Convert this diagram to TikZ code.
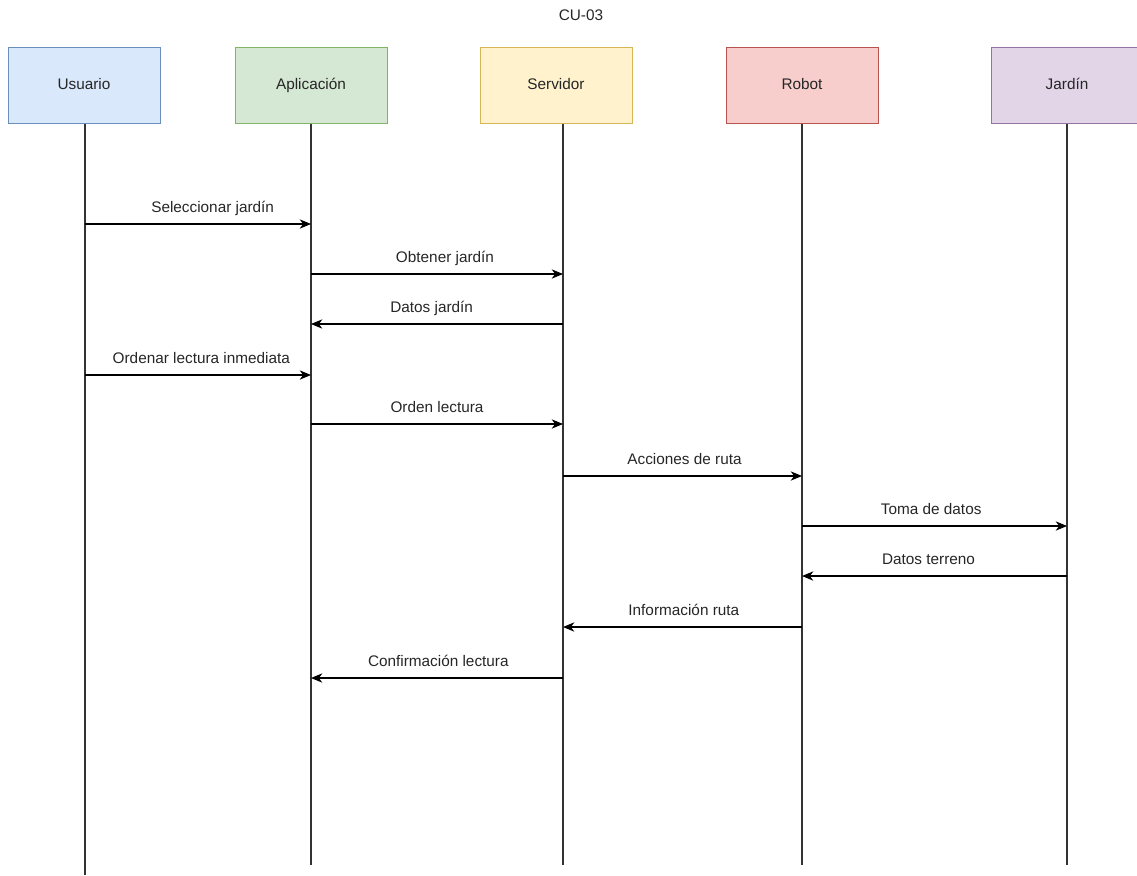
\documentclass[tikz,border=0pt]{standalone}
\usepackage{fontspec}
\setmainfont{Liberation Sans}
\usetikzlibrary{arrows.meta}

\begin{document}
\begin{tikzpicture}
		[x=0.75pt,y=-0.75pt,line cap=butt,
		%Styles
		actor/.style={line width=0.75pt,minimum width=114pt,minimum height=57pt,inner sep=0pt,text height=8.3pt,text depth=2.2pt,font=\fontsize{11.5}{13}\selectfont,text=black!85},
		lifeline/.style={draw=black!80,line width=0.9pt},
		msg/.style={draw=black,line width=0.8pt,-{Stealth[length=8.5pt,width=7pt,inset=2.6pt]}},
		msg label/.style={anchor=base,yshift=9pt,inner sep=0pt,font=\fontsize{11.5}{13}\selectfont,text=black!85}
		]
		
		%Colors
		\definecolor{userfill}{HTML}{DAE8FC}	\definecolor{userline}{HTML}{6C8EBF}
		\definecolor{appfill}{HTML}{D5E8D4}		\definecolor{appline}{HTML}{82B366}
		\definecolor{serverfill}{HTML}{FFF2CC}	\definecolor{serverline}{HTML}{D6B656}
		\definecolor{robotfill}{HTML}{F8CECC}	\definecolor{robotline}{HTML}{B85450}
		\definecolor{gardenfill}{HTML}{E1D5E7}	\definecolor{gardenline}{HTML}{9673A6}
		
		\useasboundingbox (0,0) rectangle (1137,875);
		
		%Title
		\node[font=\fontsize{11.5}{13}\selectfont,text=black!85] (title) at (581,15) {CU-03};
		
		%Actors
		\node[actor,fill=userfill,draw=userline] (usuario) at (84,85) {Usuario};
		\node[actor,fill=appfill,draw=appline] (app) at (311,85) {Aplicación};
		\node[actor,fill=serverfill,draw=serverline] (servidor) at (556,85) {Servidor};
		\node[actor,fill=robotfill,draw=robotline] (robot) at (802,85) {Robot};
		\node[actor,fill=gardenfill,draw=gardenline] (jardin) at (1067,85) {Jardín};
		
		%Lifelines
		\coordinate (usuario end) at (85,875);
		\coordinate (app end) at (311,865);
		\coordinate (servidor end) at (563,865);
		\coordinate (robot end) at (802,865);
		\coordinate (jardin end) at (1067,865);
		\draw[lifeline] (usuario end |- usuario.south) -- (usuario end);
		\draw[lifeline] (app.south) -- (app end);
		\draw[lifeline] (servidor end |- servidor.south) -- (servidor end);
		\draw[lifeline] (robot.south) -- (robot end);
		\draw[lifeline] (jardin.south) -- (jardin end);
		
		%Messages
		\draw[msg] (usuario end |- 0,224) -- node[msg label,xshift=11pt] {Seleccionar jardín} (app end |- 0,224);
		\draw[msg] (app end |- 0,274) -- node[msg label,xshift=6pt] {Obtener jardín} (servidor end |- 0,274);
		\draw[msg] (servidor end |- 0,324) -- node[msg label,xshift=-4pt] {Datos jardín} (app end |- 0,324);
		\draw[msg] (usuario end |- 0,375) -- node[msg label,xshift=2.5pt] {Ordenar lectura inmediata} (app end |- 0,375);
		\draw[msg] (app end |- 0,424) -- node[msg label] {Orden lectura} (servidor end |- 0,424);
		\draw[msg] (servidor end |- 0,476) -- node[msg label,xshift=1.5pt] {Acciones de ruta} (robot end |- 0,476);
		\draw[msg] (robot end |- 0,526) -- node[msg label,xshift=-2.5pt] {Toma de datos} (jardin end |- 0,526);
		\draw[msg] (jardin end |- 0,576) -- node[msg label,xshift=-4.5pt] {Datos terreno} (robot end |- 0,576);
		\draw[msg] (robot end |- 0,627) -- node[msg label,xshift=1pt] {Información ruta} (servidor end |- 0,627);
		\draw[msg] (servidor end |- 0,678) -- node[msg label,xshift=1pt] {Confirmación lectura} (app end |- 0,678);
	\end{tikzpicture}
\end{document}
